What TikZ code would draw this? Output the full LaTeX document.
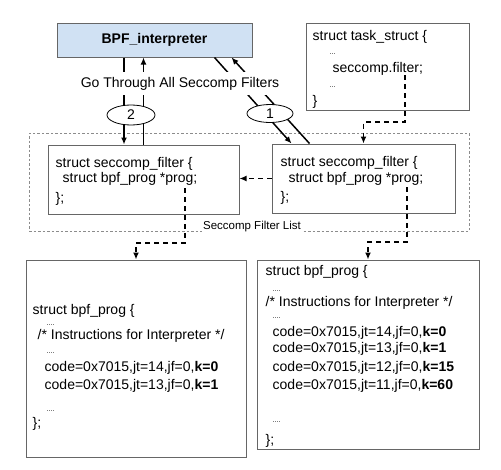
\documentclass[tikz,border=0pt]{standalone}
\usepackage{fontspec}
\setmainfont{Liberation Sans}
\usetikzlibrary{arrows.meta,shapes.geometric}

\definecolor{interpblue}{RGB}{208,225,243}
\newcommand\dotrow{{\fontsize{7}{8}\selectfont ....}}
\newcommand\dotthree{{\fontsize{7}{8}\selectfont ...}}

\begin{document}
\begin{tikzpicture}
[
    x=1pt, y=-1pt,
    every node/.style={font=\fontsize{14}{16}\selectfont, inner sep=0pt},
    plainbox/.style={draw=black!60, line width=1pt},
    interp/.style={plainbox, fill=interpblue},
    listbox/.style={draw=black!45, dash pattern=on 2.5pt off 2pt, line width=1pt},
    codeline/.style={anchor=base west},
    pass/.style={line width=1.5pt, -{Latex[length=7pt,width=6pt]}},
    ptr/.style={pass, dash pattern=on 5pt off 4pt},
    num/.style={ellipse, draw, fill=white, line width=0.8pt}
  ]

  \useasboundingbox (0,0) rectangle (501,469);

  % filter list
  \node[listbox, minimum width=440pt, minimum height=98pt] (list) at (249,182) {};

  \node[interp, minimum width=195pt, minimum height=34pt] (interp) at (154.5,40) {\textbf{BPF\_interpreter}};
  \node[plainbox, minimum width=163pt, minimum height=87pt] (task) at (387.5,66.5) {};
  \node[plainbox, minimum width=191pt, minimum height=69pt] (filterA) at (143.5,179.5) {};
  \node[plainbox, minimum width=183pt, minimum height=69pt] (filterB) at (363.5,178.5) {};
  \node[plainbox, minimum width=220pt, minimum height=197pt] (progA) at (136,358.5) {};
  \node[plainbox, minimum width=222pt, minimum height=189pt] (progB) at (368,354.5) {};

  % texts in the boxes
  \foreach \dx/\dy/\txt [count=\i] in {7/18/{struct task\_struct \{}, 24/32/{\dotthree},
      27/50/{seccomp.filter;}, 24/65/{\dotthree}, 7/83/{\}}}
    \node[codeline] (task\i) at ([shift={(\dx,\dy)}]task.north west) {\txt};

  \foreach \dx/\dy/\txt [count=\i] in {8/23/{struct seccomp\_filter \{},
      15/38/{struct bpf\_prog *prog;}, 8/58/{\};}}
    \node[codeline] (fa\i) at ([shift={(\dx,\dy)}]filterA.north west) {\txt};

  \foreach \dx/\dy/\txt [count=\i] in {9/23/{struct seccomp\_filter \{},
      17/39/{struct bpf\_prog *prog;}, 9/58/{\};}}
    \node[codeline] (fb\i) at ([shift={(\dx,\dy)}]filterB.north west) {\txt};

  \foreach \dx/\dy/\txt [count=\i] in {7/55/{struct bpf\_prog \{}, 21/66/{\dotrow},
      12/80/{/* Instructions for Interpreter */}, 21/94/{\dotrow},
      19/112/{code=0x7015,jt=14,jf=0,\textbf{k=0}},
      19/130/{code=0x7015,jt=13,jf=0,\textbf{k=1}},
      21/152/{\dotrow}, 7/168/{\};}}
    \node[codeline] (pa\i) at ([shift={(\dx,\dy)}]progA.north west) {\txt};

  \foreach \dx/\dy/\txt [count=\i] in {9/16/{struct bpf\_prog \{}, 16/32/{\dotrow},
      9/47/{/* Instructions for Interpreter */}, 16/59/{\dotrow},
      16/77/{code=0x7015,jt=14,jf=0,\textbf{k=0}},
      16/93/{code=0x7015,jt=13,jf=0,\textbf{k=1}},
      16/112/{code=0x7015,jt=12,jf=0,\textbf{k=15}},
      16/130/{code=0x7015,jt=11,jf=0,\textbf{k=60}},
      16/163/{\dotrow}, 9/185/{\};}}
    \node[codeline] (pb\i) at ([shift={(\dx,\dy)}]progB.north west) {\txt};

  % pointers
  \coordinate (taskptr) at (405,75);
  \coordinate (aptr) at (185,188);
  \coordinate (bptr) at (407,187);

  \draw[ptr] (taskptr) -- ++(0,47) -| (filterB.north);
  \draw[ptr] (filterB.west) -- (filterA.east |- filterB.west);
  \draw[ptr] (aptr) -- ++(0,55) -| (progA.north);
  \draw[ptr] (bptr) -- ++(0,55) -| (progB.north);

  % passes through the filters
  \draw[pass] (interp.south -| 124,0) -- (filterA.north -| 124,0);
  \draw[pass] (filterA.north) -- (filterA.north |- interp.south);
  \draw[pass] ([xshift=-38pt]interp.south east) -- ([xshift=20pt]filterB.north west);
  \draw[pass] ([xshift=38pt]filterB.north west) -- ([xshift=-21pt]interp.south east);

  \node[fill=white, inner xsep=2pt, minimum height=23pt] (through) at (180,83.5) {Go Through All Seccomp Filters};
  \node[num, minimum width=48pt, minimum height=20pt] (two) at (131,115) {2};
  \node[num, minimum width=46pt, minimum height=18pt] (one) at (270,113.5) {1};
  \node[fill=white, inner sep=1pt, font=\fontsize{11.5}{13}\selectfont] (listlabel) at (252,227) {Seccomp Filter List};
\end{tikzpicture}
\end{document}
